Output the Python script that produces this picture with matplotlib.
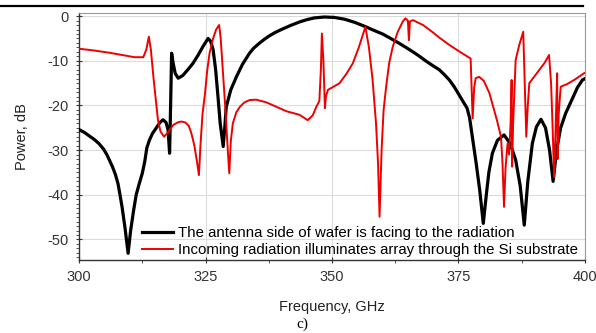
import numpy as np
import matplotlib
matplotlib.use("Agg")
import matplotlib.pyplot as plt
from matplotlib.ticker import MultipleLocator
from matplotlib.lines import Line2D

plt.rcParams['font.family'] = ['Liberation Sans', 'DejaVu Sans']
plt.rcParams['axes.unicode_minus'] = False

# The antenna side of wafer is facing to the radiation (black)
freq_front = [300, 301, 302, 303, 303.9, 304.8, 305.5, 306.6, 307.2, 307.7,
              308.1, 308.5, 309.1, 309.7, 310.2, 310.8, 311.3, 311.9, 312.5, 313.0,
              313.4, 313.9, 314.5, 315.4, 316.0, 316.6, 317.2, 317.6, 317.9,
              318.1, 318.3, 318.6, 319.0, 319.6, 320.5, 321.5, 322.5, 323.5, 324.5,
              325.5, 326.0, 326.5, 327.0, 327.5, 327.9, 328.5, 328.8, 329.1, 330.0,
              331.1, 332.3, 333.7, 334.5, 335.5, 336.5, 337.5, 338.7, 340, 341.8,
              343.6, 345, 346.5, 348.5, 350.5, 352.5, 354.5, 356.7, 358.3, 360,
              361.6, 363.3, 364.6, 366, 367.3, 368.5, 369.8, 371.2, 372.2, 373.2,
              374.2, 375.1, 376.0, 376.7, 377.2, 377.8, 378.5, 379.2, 379.9, 380.5,
              381.0, 381.7, 382.7, 384.0, 385.2, 386.3, 387.2, 388.0, 388.7, 389.6,
              390.4, 391.3, 392.2, 393.0, 393.7, 394.4, 395.2, 396.2, 397.5, 398.5,
              399.5, 400]
power_front = [-25.4, -26.0, -26.8, -27.6, -28.5, -29.7, -31, -33.7, -35.5, -37.5,
               -40, -42.7, -47.5, -53.1, -48, -43.4, -40, -37.5, -35.2, -32.5,
               -29.5, -27.8, -26.3, -24.8, -23.8, -23.2, -23.8, -25.5, -30.7,
               -20, -8.3, -10.5, -12.8, -13.9, -13.3, -12, -10.6, -8.8, -6.8,
               -5.0, -5.6, -7.5, -12, -18.5, -24, -29.2, -25, -20.3, -16.5,
               -13.6, -10.8, -8.3, -7.2, -6.2, -5.3, -4.5, -3.7, -3, -2.1,
               -1.3, -0.8, -0.4, -0.2, -0.3, -0.7, -1.4, -2.4, -3.2, -4,
               -5, -6.1, -7.0, -8, -9.0, -10, -11, -12, -13.1, -14.3,
               -15.9, -17.6, -19.3, -20.6, -22.8, -27.5, -33, -39, -46.4, -40,
               -35, -30.7, -27.8, -26.6, -28.5, -32.2, -38, -46.8, -37, -28.5,
               -24.8, -23.1, -25, -30, -37, -30, -25, -21.7, -18.5, -16,
               -14.3, -14.0]

# Incoming radiation illuminates array through the Si substrate (red)
freq_back = [300, 303, 306, 309, 311, 312.7, 313.3, 313.8, 314.2, 314.7,
             315.2, 315.6, 316.1, 316.8, 317.6, 318.6, 319.5, 320.2, 321, 321.7,
             322.2, 322.8, 323.3, 323.7, 324.0, 324.4, 324.9, 325.3, 325.8, 326.5,
             327.1, 327.7, 328.0, 328.3, 328.6, 329.0, 329.4, 329.7, 330.0, 330.4,
             331.1, 331.8, 332.7, 333.7, 335, 337, 339, 341, 343.6, 345.2,
             346.2, 346.9, 347.5, 347.8, 348.0, 348.3, 348.6, 348.8, 349.2, 350.3,
             351.5, 352.8, 354.1, 355.3, 356.0, 356.6, 357.3, 358.0, 358.7, 359.1,
             359.4, 359.8, 360.2, 360.7, 361.3, 362.0, 363.0, 364.0, 364.5, 365.0,
             365.2, 365.4, 366.0, 368, 370, 371.2, 373, 375, 377.4, 377.8,
             378.1, 378.4, 379.1, 380, 381.1, 382.6, 383.4, 383.7, 384.0, 384.3,
             384.7, 385.0, 385.3, 385.5, 385.6, 385.8, 386.3, 387.0, 387.8, 388.1,
             388.4, 388.7, 389.0, 390, 391, 392, 392.9, 393.3, 393.6, 393.9,
             394.2, 394.5, 394.6, 394.8, 395.2, 396.5, 398, 399.8, 400]
power_back = [-7.3, -7.7, -8.2, -8.8, -9.2, -9.2, -7.5, -4.6, -7.5, -13.6,
              -19, -23.3, -25.8, -27, -26, -24.4, -23.8, -23.6, -23.8, -24.6,
              -26.2, -29, -32.5, -35.6, -29, -22, -17.3, -12.5, -8.3, -5,
              -3, -2.0, -5, -10, -15, -22, -30, -35.2, -28, -24,
              -21.5, -20.3, -19.3, -18.8, -18.7, -19.3, -20.3, -21.3, -22.1, -23.3,
              -22.2, -20.3, -19, -12, -3.9, -10, -20.6, -18, -16.5, -15.8,
              -15, -13, -10.6, -7, -4.5, -2.4, -7, -14, -24, -33,
              -44.9, -30, -21, -15.8, -10.5, -6.9, -3.5, -1.2, -0.5, -1,
              -5.4, -1.2, -0.9, -2, -3.7, -4.8, -6.3, -7.8, -9.5, -22.9,
              -16, -13.9, -13.6, -14.5, -17.2, -23.3, -27, -33, -42.7, -34,
              -28.5, -31, -24, -14.3, -33.7, -24, -9.8, -6.5, -3.5, -15,
              -27, -20, -15, -13.5, -12, -10.5, -8.7, -15, -24.8, -36,
              -25, -12.8, -32, -22, -15.8, -15.2, -14.2, -12.8, -12.7]

labels = ["The antenna side of wafer is facing to the radiation",
          "Incoming radiation illuminates array through the Si substrate"]

fig = plt.figure(figsize=(5.96, 3.33), dpi=100)
ax = fig.add_axes([0.1326, 0.2192, 0.8489, 0.7418])

ax.plot(freq_front, power_front, color='black', lw=2.3, label=labels[0], zorder=3)
ax.plot(freq_back, power_back, color='#ee0000', lw=1.4, label=labels[1], zorder=4)

ax.set_xlim(300, 400)
ax.set_ylim(-54.6, 0.7)
ax.xaxis.set_major_locator(MultipleLocator(25))
ax.xaxis.set_minor_locator(MultipleLocator(12.5))
ax.yaxis.set_major_locator(MultipleLocator(10))
ax.yaxis.set_minor_locator(MultipleLocator(1))
ax.grid(True, which='major', color='#dcdcdc', lw=0.8, zorder=0)
ax.tick_params(which='major', direction='inout', length=5, width=0.8, labelsize=10.5,
               colors='#333333', pad=5)
ax.tick_params(which='minor', direction='out', length=2.5, width=0.6, colors='#333333')

for s in ['top', 'right']:
    ax.spines[s].set_color('#999999')
for s in ['left', 'bottom']:
    ax.spines[s].set_color('#333333')
    ax.spines[s].set_linewidth(1.0)

ax.set_xlabel("Frequency, GHz", fontsize=10.5, color='#222222', labelpad=11)
ax.set_ylabel("Power, dB", fontsize=10.5, color='#222222', labelpad=13)

ax.legend(loc='lower left', bbox_to_anchor=(0.124, 0.012), frameon=False,
          fontsize=10.8, handlelength=2.1, handletextpad=0.3, labelspacing=0.2,
          borderpad=0, borderaxespad=0)

# rule above the figure and caption below
fig.add_artist(Line2D([0.0, 0.978], [0.983, 0.983], color='black', lw=1.6))
fig.text(0.508, 0.006, "c)", fontsize=11, family='Liberation Serif', ha='center', va='bottom')

fig.savefig("out.png", dpi=100)
